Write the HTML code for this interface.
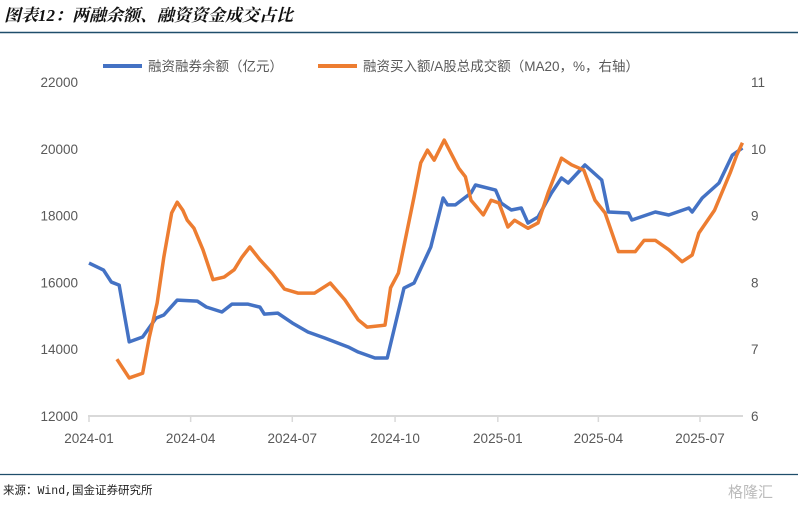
<!DOCTYPE html>
<html><head><meta charset="utf-8">
<style>
body{margin:0;background:#fff;width:798px;height:509px;overflow:hidden;font-family:"Liberation Sans","Noto Sans CJK SC",sans-serif;}
#wrap{position:relative;width:798px;height:509px;}
</style></head>
<body><div id="wrap">
<svg id="chart" width="798" height="509" xmlns="http://www.w3.org/2000/svg">
<text x="4" y="21" font-size="17" font-weight="bold" font-style="italic" fill="#111" font-family="Liberation Serif,Noto Serif CJK SC,serif">图表12：两融余额、融资资金成交占比</text>
<line x1="0" y1="32.5" x2="798" y2="32.5" stroke="#1f4e6b" stroke-width="1.5"/>
<g>
<line x1="103" y1="66" x2="142" y2="66" stroke="#4472C4" stroke-width="4"/>
<text x="148" y="71" font-size="13.5" fill="#595959">融资融券余额（亿元）</text>
<line x1="318" y1="66" x2="357" y2="66" stroke="#ED7D31" stroke-width="4"/>
<text x="363" y="71" font-size="13.5" fill="#595959">融资买入额/A股总成交额（MA20，%，右轴）</text>
</g>
<line x1="0" y1="474.5" x2="798" y2="474.5" stroke="#1f4e6b" stroke-width="1.2"/>
<text x="3" y="494" font-size="11.5" fill="#222" font-family="Liberation Mono,Noto Sans CJK SC,monospace">来源：Wind,国金证券研究所</text>
<text x="728" y="497" font-size="15" fill="#bbb">格隆汇</text>
<g id="axes"></g>
<g id="series"></g>
</svg>
<script>
const leftTicks=[12000,14000,16000,18000,20000,22000];
const rightTicks=[6,7,8,9,10,11];
const xTickLabels=["2024-01","2024-04","2024-07","2024-10","2025-01","2025-04","2025-07"];
const xTickDays=[0,91,182,274,366,456,547];
const balanceDays=[0,13,20,27,36,48,60,67,79,97,105,119,128,142,153,157,169,182,196,211,232,241,256,267,282,291,306,317,321,328,342,346,364,369,378,387,393,402,414,423,429,444,459,465,483,486,507,519,537,540,549,564,576,585];
const balanceValues=[16580,16370,16010,15920,14220,14365,14930,15024,15470,15440,15264,15114,15350,15350,15260,15050,15080,14785,14515,14336,14066,13916,13737,13737,15832,15980,17060,18527,18320,18320,18677,18916,18766,18377,18168,18228,17778,17958,18677,19126,18976,19515,19066,18108,18078,17868,18108,18018,18228,18108,18527,18976,19814,20024];
const ratioDays=[25,36,48,54,61,67,74,79,84,88,94,102,111,121,130,137,144,153,164,175,187,202,216,229,241,249,265,270,277,291,297,303,309,318,331,337,342,353,360,367,375,381,393,402,411,423,432,443,453,462,474,489,497,507,519,531,540,546,560,574,580,585];
const ratioValues=[6.85,6.57,6.64,7.18,7.69,8.38,9.04,9.20,9.08,8.93,8.81,8.49,8.04,8.08,8.19,8.38,8.53,8.34,8.14,7.90,7.84,7.84,7.99,7.74,7.44,7.33,7.36,7.92,8.14,9.28,9.79,9.98,9.83,10.13,9.71,9.58,9.23,9.01,9.23,9.19,8.83,8.93,8.81,8.89,9.34,9.86,9.76,9.68,9.23,9.04,8.46,8.46,8.63,8.63,8.49,8.31,8.41,8.74,9.08,9.64,9.91,10.09];
const NS="http://www.w3.org/2000/svg";
const X0=89,PXD=1.117,YT=82,YB=416;
const xs=d=>X0+d*PXD;
const yl=v=>YB-(v-12000)/10000*(YB-YT);
const yr=v=>YB-(v-6)/5*(YB-YT);
const axes=document.getElementById('axes'),series=document.getElementById('series');
function mk(tag,attrs,parent){const e=document.createElementNS(NS,tag);for(const k in attrs)e.setAttribute(k,attrs[k]);parent.appendChild(e);return e;}
const base=mk('line',{x1:88,y1:YB,x2:743,y2:YB,stroke:'#d9d9d9','stroke-width':2},axes);


leftTicks.forEach(v=>{const t=mk('text',{x:78,y:yl(v)+5,'text-anchor':'end','font-size':13.5,fill:'#595959'},axes);t.textContent=v;

});
rightTicks.forEach(v=>{const t=mk('text',{x:751,y:yr(v)+5,'font-size':13.5,fill:'#595959'},axes);t.textContent=v;

});
xTickDays.forEach((d,i)=>{const x=xs(d);const tk=mk('line',{x1:x,y1:YB,x2:x,y2:YB+6,stroke:'#d9d9d9','stroke-width':1.5},axes);


const t=mk('text',{x:x,y:YB+27,'text-anchor':'middle','font-size':13.5,fill:'#595959'},axes);t.textContent=xTickLabels[i];

});
const p1=mk('polyline',{points:balanceDays.map((d,i)=>xs(d)+','+yl(balanceValues[i])).join(' '),fill:'none',stroke:'#4472C4','stroke-width':3.5,'stroke-linejoin':'round'},series);


const p2=mk('polyline',{points:ratioDays.map((d,i)=>xs(d)+','+yr(ratioValues[i])).join(' '),fill:'none',stroke:'#ED7D31','stroke-width':3.5,'stroke-linejoin':'round'},series);


</script>
</div></body></html>
